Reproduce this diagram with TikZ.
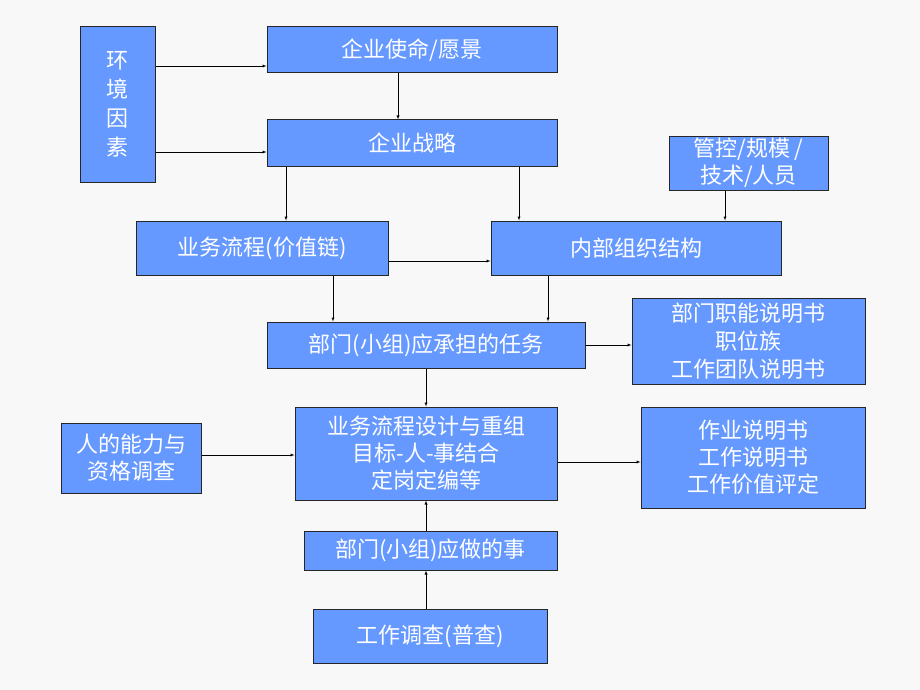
\documentclass[tikz,border=0pt]{standalone}
\usepackage{fontspec}
\setmainfont{Noto Sans CJK SC}
\usepackage{tikz}
\usetikzlibrary{positioning}
\definecolor{boxblue}{HTML}{6699FF}
\definecolor{paper}{HTML}{F8F8F8}
\tikzset{>=latex}
\tikzset{blk/.style={draw=black!85,line width=1pt,fill=boxblue,text=white,align=center,
  inner sep=0pt,font=\fontsize{22}{27}\selectfont}}

\begin{document}
\begin{tikzpicture}[x=1pt,y=-1pt]
      \fill[paper] (0,0) rectangle (920,690);
      \useasboundingbox (0,0) rectangle (920,690);
      \node[blk,minimum width=75pt,minimum height=155pt,font=\fontsize{22}{29}\selectfont] (env) at (117.5,104.5) {环\\境\\因\\素};
      \node[blk,minimum width=290pt,minimum height=46pt] (mission) at (412,50) {企业使命/愿景};
      \node[blk,minimum width=290pt,minimum height=46pt] (strategy) at (412,143) {企业战略};
      \node[blk,minimum width=159pt,minimum height=54pt] (ctrl) at (748.5,163) {管控/规模 /\\技术/人员};
      \node[blk,minimum width=252pt,minimum height=54pt] (flow) at (262,248) {业务流程(价值链)};
      \node[blk,minimum width=290pt,minimum height=54pt] (org) at (636,248) {内部组织结构};
      \node[blk,minimum width=318pt,minimum height=46pt] (task) at (426,345) {部门(小组)应承担的任务};
      \node[blk,minimum width=233pt,minimum height=86pt,font=\fontsize{22}{28}\selectfont] (func) at (748.5,341) {部门职能说明书\\职位族\\工作团队说明书};
      \node[blk,minimum width=140pt,minimum height=70pt] (ability) at (131,458) {人的能力与\\资格调查};
      \node[blk,minimum width=262pt,minimum height=93pt] (design) at (426,453.5) {业务流程设计与重组\\目标-人-事结合\\定岗定编等};
      \node[blk,minimum width=224pt,minimum height=101pt] (job) at (753,457.5) {作业说明书\\工作说明书\\工作价值评定};
      \node[blk,minimum width=253pt,minimum height=39pt] (todo) at (430.5,550.5) {部门(小组)应做的事};
      \node[blk,minimum width=234pt,minimum height=54pt] (survey) at (430,636) {工作调查(普查)};
      % connectors
      \draw[->] (env.east |- 0,66) -- (mission.west |- 0,66);
      \draw[->] (env.east |- 0,152) -- (strategy.west |- 0,152);
      \draw[->] (mission.south -| 398,0) -- (strategy.north -| 398,0);
      \draw[->] (strategy.south -| 286,0) -- (flow.north -| 286,0);
      \draw[->] (strategy.south -| 519,0) -- (org.north -| 519,0);
      \draw[->] (ctrl.south -| 725,0) -- (org.north -| 725,0);
      \draw[->] (flow.east |- 0,261) -- (org.west |- 0,261);
      \draw[->] (flow.south -| 333,0) -- (task.north -| 333,0);
      \draw[->] (org.south -| 548,0) -- (task.north -| 548,0);
      \draw[->] (task.east) -- (func.west |- task.east);
      \draw[->] (task.south) -- (design.north);
      \draw[->] (ability.east |- 0,455) -- (design.west |- 0,455);
      \draw[->] (design.east |- 0,462) -- (job.west |- 0,462);
      \draw[->] (todo.north -| design.south) -- (design.south);
      \draw[->] (survey.north -| design.south) -- (todo.south -| design.south);
\end{tikzpicture}
\end{document}
